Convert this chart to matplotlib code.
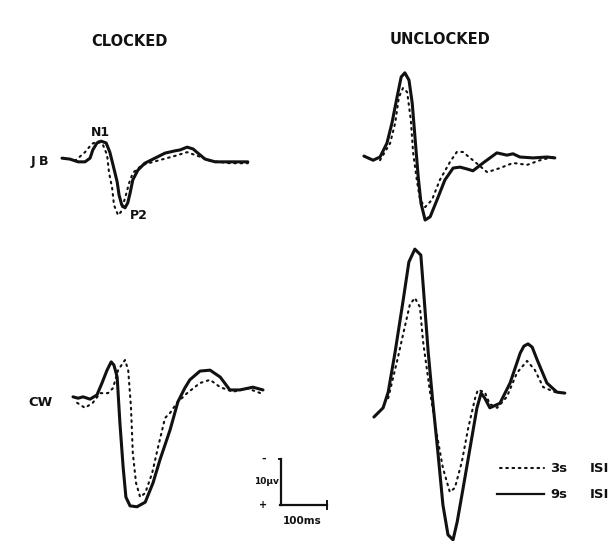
import matplotlib
matplotlib.use("Agg")
import matplotlib.pyplot as plt
from matplotlib.lines import Line2D

# Averaged evoked potentials, time in ms from trace start, amplitude in microvolts
# (negative is plotted upward, as in the original figure)

# JB, clocked
jb_clk_9s_t = [0, 17, 35, 50, 61, 67, 76, 85, 96, 104, 111, 120, 124, 130, 137, 143, 148, 154, 165, 180,
               202, 224, 246, 257, 272, 285, 293, 311, 333, 365, 404]
jb_clk_9s_v = [-0.4, -0.2, 0.4, 0.4, -0.4, -2.2, -3.7, -4.1, -3.7, -1.7, 1.1, 4.8, 7.6, 9.8, 10.4, 9.3, 7.2, 4.3, 2.2, 0.7,
               -0.4, -1.5, -2.0, -2.2, -2.8, -2.4, -1.7, -0.2, 0.4, 0.4, 0.4]
jb_clk_3s_t = [28, 35, 50, 65, 78, 89, 98, 102, 109, 113, 122, 128, 137, 146, 154, 174, 213, 246, 272, 300, 322, 365, 404]
jb_clk_3s_v = [0.2, -0.4, -1.7, -3.5, -4.1, -3.3, -1.1, 2.6, 6.1, 9.8, 12.0, 11.3, 8.3, 5.0, 2.8, 1.1, 0, -0.9, -1.7, -0.7, 0.2, 0.7, 0.7]

# JB, unclocked
jb_unc_9s_t = [2, 22, 37, 52, 63, 74, 83, 91, 100, 107, 113, 120, 126, 135, 146, 161, 178, 196, 211, 226,
               239, 261, 276, 291, 313, 326, 341, 370, 400, 417]
jb_unc_9s_v = [-0.2, 0.7, 0, -3.0, -7.4, -13.0, -17.4, -18.3, -16.7, -11.7, -4.3, 4.3, 10.0, 13.7, 13.0, 9.3, 5.0, 2.4, 2.2, 2.6,
               3.0, 1.3, 0.2, -0.9, -0.4, -0.7, 0, 0.2, 0, 0.2]
jb_unc_3s_t = [37, 59, 70, 78, 87, 96, 104, 109, 117, 124, 135, 150, 167, 189, 204, 217, 239, 270, 298, 326, 357, 385, 413]
jb_unc_3s_v = [0.7, -3.0, -7.4, -13.0, -15.0, -14.1, -8.0, -0.9, 5.0, 9.3, 10.9, 9.3, 5.0, 1.1, -1.1, -1.1, 0.7, 3.3, 2.4, 1.3, 1.7, 0.7, 0]

# CW, clocked
cw_clk_9s_t = [0, 11, 22, 37, 52, 63, 74, 83, 89, 96, 102, 109, 115, 124, 139, 157, 174, 189, 211, 228,
               243, 254, 276, 298, 320, 341, 363, 391, 413]
cw_clk_9s_v = [0.4, 0.7, 0.4, 0.9, 0, -2.6, -5.4, -7.2, -6.5, -3.9, 6.1, 15.7, 22.2, 24.1, 24.3, 23.3, 19.1, 14.1, 7.6, 1.5,
               -1.5, -3.3, -5.2, -5.4, -3.9, -1.1, -1.1, -1.7, -1.1]
cw_clk_3s_t = [9, 26, 43, 59, 76, 87, 98, 113, 120, 126, 130, 137, 146, 157, 172, 185, 200, 211, 226, 248,
               276, 298, 320, 348, 378, 413]
cw_clk_3s_v = [1.7, 2.8, 1.7, -0.4, -0.4, -1.5, -5.4, -7.6, -5.4, 2.6, 12.6, 19.1, 22.2, 21.3, 17.0, 11.3, 5.0, 3.9, 1.7, -0.4,
               -2.6, -3.3, -1.7, -0.7, -1.5, -0.2]

# CW, unclocked
cw_unc_9s_t = [2, 22, 33, 48, 65, 78, 91, 104, 109, 120, 130, 141, 152, 163, 174, 183, 196, 211, 226, 235,
               243, 254, 276, 298, 320, 328, 337, 346, 357, 378, 400, 417]
cw_unc_9s_v = [3.7, 1.7, -1.7, -10.4, -21.3, -30.0, -32.8, -31.5, -25.0, -10.4, 0.4, 11.3, 22.8, 29.3, 30.4, 26.5, 19.1, 10.4, 1.7, -1.5,
               -0.4, 1.7, 0.7, -3.7, -10.2, -11.7, -12.2, -11.5, -8.7, -3.7, -1.7, -1.5]
cw_unc_3s_t = [33, 52, 70, 80, 91, 102, 109, 124, 139, 152, 167, 178, 193, 207, 222, 228, 243, 254, 270, 291,
               313, 335, 352, 370, 396]
cw_unc_3s_v = [-0.4, -8.3, -16.3, -20.7, -22.2, -20.2, -12.6, -1.7, 7.6, 14.8, 20.0, 19.1, 13.5, 6.1, -0.4, -2.2, -1.7, 0.9, 1.7, -0.7,
               -5.9, -8.5, -6.5, -2.8, -1.7]

W, H = 615, 541
PX_PER_MS = 0.46
PX_PER_UV = 4.6


def px(x, y):
    # pixel position -> figure fraction
    return x / W, 1 - y / H


def to_data(x, y):
    # pixel position -> (ms, uV) on the shared axes
    return x / PX_PER_MS, y / PX_PER_UV


fig = plt.figure(figsize=(W / 100, H / 100), dpi=100)
fig.patch.set_facecolor("white")
ax = fig.add_axes([0, 0, 1, 1])
ax.set_xlim(0, W / PX_PER_MS)
ax.set_ylim(H / PX_PER_UV, 0)  # negative up
ax.axis("off")

ink = "#111111"
solid_kw = dict(color=ink, lw=2.2, solid_capstyle="round", solid_joinstyle="round")
dot_kw = dict(color=ink, lw=1.5, linestyle=(0, (0.8, 2.2)), dash_capstyle="round")

panels = [
    ((62, 160), jb_clk_9s_t, jb_clk_9s_v, jb_clk_3s_t, jb_clk_3s_v),
    ((363, 157), jb_unc_9s_t, jb_unc_9s_v, jb_unc_3s_t, jb_unc_3s_v),
    ((73, 395), cw_clk_9s_t, cw_clk_9s_v, cw_clk_3s_t, cw_clk_3s_v),
    ((373, 400), cw_unc_9s_t, cw_unc_9s_v, cw_unc_3s_t, cw_unc_3s_v),
]

for (x0, y0), t9, v9, t3, v3 in panels:
    ox, oy = to_data(x0, y0)
    ax.plot([t + ox for t in t3], [v + oy for v in v3], **dot_kw)
    ax.plot([t + ox for t in t9], [v + oy for v in v9], **solid_kw)

# calibration: 10 uV vertical, 100 ms horizontal
cx, cy = to_data(281, 505)
ax.plot([cx, cx], [cy, cy - 10], color=ink, lw=1.6)
ax.plot([cx - 3, cx + 100], [cy, cy], color=ink, lw=1.6)
ax.plot([cx + 100, cx + 100], [cy - 0.8, cy + 0.8], color=ink, lw=1.4)
ax.plot([cx - 5, cx], [cy - 10, cy - 10], color=ink, lw=1.4)

txt = dict(fontweight="bold", color=ink, fontfamily="DejaVu Sans")
fig.text(*px(129, 42), "CLOCKED", ha="center", va="center", fontsize=10.5, **txt)
fig.text(*px(440, 40), "UNCLOCKED", ha="center", va="center", fontsize=10.5, **txt)
fig.text(*px(100, 133), "N1", ha="center", va="center", fontsize=9, **txt)
fig.text(*px(139, 216), "P2", ha="center", va="center", fontsize=9, **txt)
fig.text(*px(40, 161), "J B", ha="center", va="center", fontsize=9, **txt)
fig.text(*px(40, 403), "CW", ha="center", va="center", fontsize=9.5, **txt)
fig.text(*px(264, 459), "-", ha="center", va="center", fontsize=8, **txt)
fig.text(*px(263, 505), "+", ha="center", va="center", fontsize=7, **txt)
fig.text(*px(266, 482), "10\u03bcv", ha="center", va="center", fontsize=6.5, **txt)
fig.text(*px(302, 521), "100ms", ha="center", va="center", fontsize=7.5, **txt)

# legend
fig.add_artist(Line2D([500 / W, 544 / W], [1 - 468 / H, 1 - 468 / H], **dot_kw))
fig.add_artist(Line2D([497 / W, 544 / W], [1 - 494 / H, 1 - 494 / H], color=ink, lw=1.6))
fig.text(*px(550, 468), "3s", ha="left", va="center", fontsize=9.5, **txt)
fig.text(*px(550, 494), "9s", ha="left", va="center", fontsize=9.5, **txt)
fig.text(*px(590, 468), "ISI", ha="left", va="center", fontsize=9.5, **txt)
fig.text(*px(590, 494), "ISI", ha="left", va="center", fontsize=9.5, **txt)

fig.savefig("out.png", dpi=100, facecolor="white")
